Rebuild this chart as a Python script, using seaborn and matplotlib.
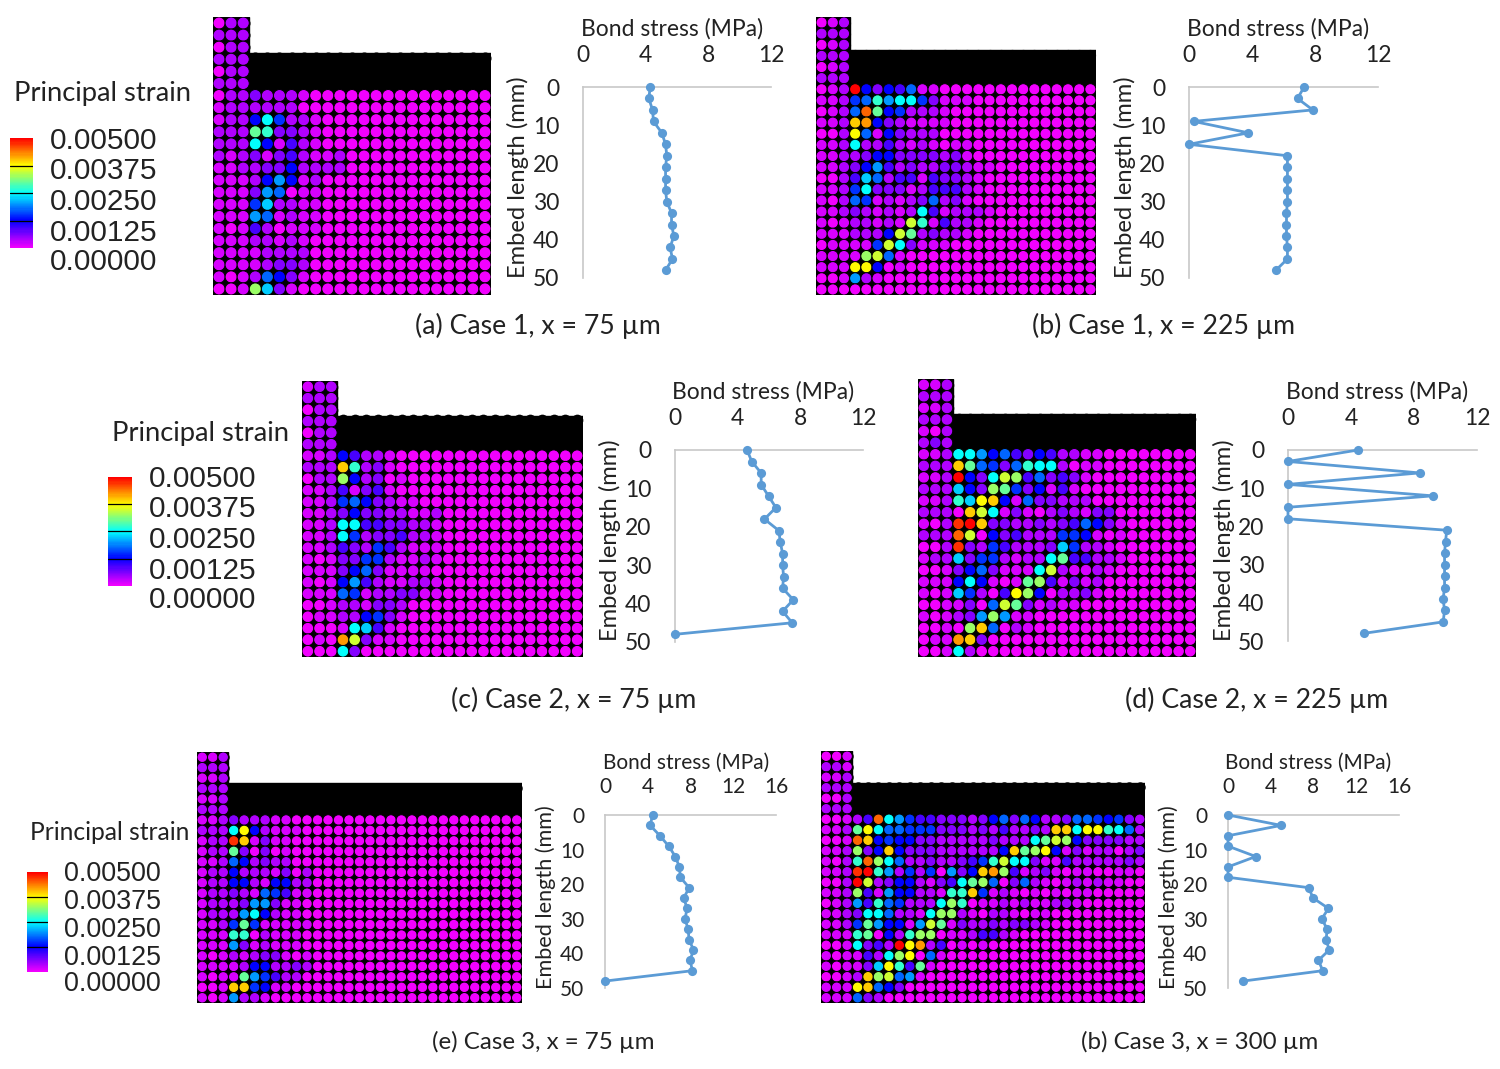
import matplotlib
matplotlib.use('Agg')
import matplotlib.pyplot as plt
from matplotlib.colors import LinearSegmentedColormap
from matplotlib.patches import Rectangle
import numpy as np
import pandas as pd
import seaborn as sns

sns.set_theme(style='white')
plt.rcParams['font.family'] = ['Lato', 'DejaVu Sans']

W, H = 1500, 1069

# strain levels per particle, one char per column in base 36, 1 unit = 0.00025
GRID_A = ['022', '222', '022', '222', '022', '222',
          '02232221', '12222220', '1225a6221', '222cb3321', '222a51421',
          '21231342112', '11223352222', '111258512', '111387011', '111692211',
          '111871211', '101420111', '11122121', '11112222', '11112332',
          '10127531', '001d9310']
GRID_B = ['012', '222', '012', '222', '012', '222',
          '012k53547110', '11267b8aa63111', '0127ic562221', '112gh5321111',
          '002f7153222', '112a2242121011', '11223553333231', '11235842322332110',
          '002497244143321', '1126a3331244421', '10276121237231', '112321212a412221',
          '10122121eb14221', '1112225ec23221', '011116ea3111', '1111de71',
          '111ff501', '0018210', '000']
GRID_C = ['122', '222', '022', '222', '022', '222',
          '112542210', '222gb2310', '022d52301', '112413410', '11267532110',
          '112353322112', '112aa44332210', '112a62334221', '112432642111',
          '101336621121', '111357311110', '101584211221', '111761223311',
          '00122133200', '01122563100', '0001a9410', '010he3110', '000a30']
GRID_D = ['112', '222', '112', '222', '102', '232',
          '112aa85743542211', '222gc7637baa2011', '112k53aed473431', '222953dc635141',
          '112b9fg51733222', '2220gea1310232133', '102jkg332232347531',
          '222ie0534222665101', '002j3264222396221', '12293662122ac44221',
          '0013573111ae21121', '1115a5101cd413120', '10196204fd502231',
          '0011307ec31211', '101238d811', '0010dg7021', '011hg30', '001a20']
GRID_E = ['112', '222', '112', '222', '112', '222',
          '112322211', '222af52111', '122jg13110', '122c303010', '1127523220',
          '12252221302', '12255215522', '12232176411', '12223883110', '12228a5211',
          '1126c611111', '111bb021110', '11183121110', '10121233101', '11112552232',
          '1011c864220', '001gg65110', '101822100']
GRID_F = ['001', '221', '112', '222', '002', '222',
          '00124ia8644333235737522377656' + '32',
          '112cfa7766633323242232ggaffba72',
          '001ig565533222223222aced5333322',
          '112d35g53332222225gcdf513122023',
          '102bida722322346beaa31142222232',
          '112jkb826260835ghd4123101100110',
          '002ke23552134acd703721012121100',
          '112d41855221bbg612101010110',
          '01284b76222adb01121211221',
          '1123aa7221add2102210110',
          '1126c85518ec1322323321',
          '111bc052bdd01124421',
          '001a342kfh240101',
          '101142adf0710',
          '101139fb4c10',
          '0012gde7810',
          '111fg7530',
          '11173200']
# levels 0-4 are the magenta to violet shades, not evenly spaced in strain
LOW_LEVELS = [0, 0.00014, 0.00034, 0.00058, 0.00088]

# embed length (mm) and bond stress (MPa)
EMBED = [0, 3, 6, 9, 12, 15, 18, 21, 24, 27, 30, 33, 36, 39, 42, 45, 48]
STRESS_A = [4.29, 4.2, 4.44, 4.5, 5.03, 5.27, 5.35, 5.27, 5.27, 5.27, 5.35, 5.65, 5.65, 5.8, 5.56, 5.71, 5.27]
STRESS_B = [7.31, 6.89, 7.86, 0.3, 3.77, 0, 6.25, 6.25, 6.25, 6.25, 6.25, 6.19, 6.19, 6.19, 6.25, 6.25, 5.51]
STRESS_C = [4.6, 4.9, 5.5, 5.5, 5.97, 6.44, 5.71, 6.63, 6.72, 6.87, 6.87, 6.93, 6.87, 7.55, 6.87, 7.48, 0]
STRESS_D = [4.45, 0, 8.35, 0, 9.2, 0, 0, 10.08, 10.0, 9.94, 9.94, 9.94, 9.94, 9.85, 9.94, 9.85, 4.81]
STRESS_E = [4.45, 4.23, 5.14, 5.96, 6.58, 6.96, 7.05, 7.87, 7.37, 7.68, 7.49, 7.77, 7.87, 8.28, 7.96, 8.18, 0]
STRESS_F = [0, 4.98, 0, 0, 2.6, 0, 0, 7.55, 7.96, 9.4, 8.78, 9.28, 9.18, 9.47, 8.46, 8.87, 1.41]

LEGEND_LABELS = ['0.00500', '0.00375', '0.00250', '0.00125', '0.00000']
CAPTIONS = ['(a) Case 1, x = 75 µm', '(b) Case 1, x = 225 µm', '(c) Case 2, x = 75 µm',
            '(d) Case 2, x = 225 µm', '(e) Case 3, x = 75 µm', '(b) Case 3, x = 300 µm']

cmap = LinearSegmentedColormap.from_list('strain', ['#F200FF', '#0000FF', '#00FFFF', '#FFFF00', '#FF0000'])
fig = plt.figure(figsize=(15, 10.69), dpi=100)


def px_axes(left, top, right, bottom):
    return fig.add_axes([left / W, 1 - bottom / H, (right - left) / W, (bottom - top) / H])


def fig_text(x, y, s, **kw):
    fig.text(x / W, 1 - y / H, s, va='center', color='#222222', **kw)


def level_strain(ch):
    level = int(ch, 36)
    return LOW_LEVELS[level] if level < len(LOW_LEVELS) else level * 0.00025


def draw_particles(grid, ncols, box):
    ax = px_axes(*box)
    nrows = len(grid)
    # stem and block sit on black, band is black particles
    ax.add_patch(Rectangle((-0.5, -0.5), 3, nrows, color='black', zorder=0))
    ax.add_patch(Rectangle((2.5, 2.5), ncols - 3, nrows - 3, color='black', zorder=0))
    rows, cols, strain = [], [], []
    for r, line in enumerate(grid):
        width = ncols if r >= 6 else 3
        for c, ch in enumerate(line.ljust(width, '0')[:width]):
            rows.append(r)
            cols.append(c)
            strain.append(level_strain(ch))
    df = pd.DataFrame({'col': cols, 'row': rows, 'strain': strain})
    cell = (box[2] - box[0]) / ncols
    size = (1.0 * cell * 0.72) ** 2
    edge_x = np.arange(3, ncols)
    ax.scatter(edge_x, np.full(len(edge_x), 2.92), s=size, color='black', linewidth=0, zorder=1)
    edge_y = np.arange(0, 3)
    ax.scatter(np.full(len(edge_y), 2.1), edge_y, s=size, color='black', linewidth=0, zorder=1)
    sns.scatterplot(data=df, x='col', y='row', hue='strain', hue_norm=(0, 0.005), palette=cmap,
                    s=size, linewidth=0.7, edgecolor='black', legend=False, ax=ax, zorder=2)
    ax.set_xlim(-0.5, ncols - 0.5)
    ax.set_ylim(nrows - 0.5, -0.5)
    ax.axis('off')


def draw_stress(stress, xmax, box, xlabel_pos, ylabel_pos, fs, pad):
    ax = px_axes(*box)
    df = pd.DataFrame({'embed': EMBED, 'stress': stress})
    sns.lineplot(data=df, x='stress', y='embed', sort=False, estimator=None, color='#5B9BD5',
                 linewidth=2.0, marker='o', markersize=6.6, markeredgewidth=0, ax=ax, clip_on=False, zorder=5)
    ax.set_xlim(0, xmax)
    ax.set_ylim(50, 0)
    ax.set_xticks(np.arange(0, xmax + 1, 4))
    ax.set_yticks([0, 10, 20, 30, 40, 50])
    ax.xaxis.tick_top()
    ax.tick_params(axis='x', length=0, labelsize=fs, labelcolor='#222222', pad=pad - 2)
    ax.tick_params(axis='y', length=0, labelsize=fs, labelcolor='#222222', pad=pad)
    for s in ['right', 'bottom']:
        ax.spines[s].set_visible(False)
    for s in ['left', 'top']:
        ax.spines[s].set_color('#c8c8c8')
        ax.spines[s].set_linewidth(1.2)
    ax.set_xlabel('')
    ax.set_ylabel('')
    fig_text(xlabel_pos[0], xlabel_pos[1] + 2, 'Bond stress (MPa)', ha='center', fontsize=fs)
    fig_text(ylabel_pos[0] + 2, ylabel_pos[1], 'Embed length (mm)', ha='center', rotation=90, fontsize=fs + 0.6)


def draw_legend(title_pos, title_fs, bar_box, label_x, label_ys, fs):
    fig_text(title_pos[0], title_pos[1] + 2, 'Principal strain', ha='center', fontsize=title_fs)
    ax = px_axes(*bar_box)
    gradient = np.linspace(0.005, 0, 100).reshape(-1, 1)
    sns.heatmap(gradient, cmap=cmap, vmin=0, vmax=0.005, cbar=False, xticklabels=False, yticklabels=False, ax=ax)
    for v in [25, 50, 75]:
        ax.axhline(v, color='black', linewidth=0.9)
    for y, label in zip(label_ys, LEGEND_LABELS):
        fig_text(label_x, y + 2, label, ha='left', fontsize=fs, family='Liberation Sans')


draw_particles(GRID_A, 23, (213, 17, 491, 295))
draw_particles(GRID_B, 25, (816, 17, 1096, 295))
draw_particles(GRID_C, 24, (302, 381, 583, 657))
draw_particles(GRID_D, 24, (918, 379, 1196, 657))
draw_particles(GRID_E, 31, (197, 752, 522, 1003))
draw_particles(GRID_F, 31, (821, 751, 1145, 1003))

draw_stress(STRESS_A, 12, (583, 87, 771, 278), (672, 27), (516, 177), 16.5, 17)
draw_stress(STRESS_B, 12, (1189, 87, 1378, 278), (1278, 27), (1123, 177), 16.5, 17)
draw_stress(STRESS_C, 12, (675, 450, 863, 642), (763, 390), (608, 540), 16.5, 17)
draw_stress(STRESS_D, 12, (1288, 450, 1477, 641), (1377, 390), (1222, 540), 16.5, 17)
draw_stress(STRESS_E, 16, (605, 815, 776, 988), (686, 761), (544, 897), 15, 15)
draw_stress(STRESS_F, 16, (1228, 815, 1399, 988), (1308, 761), (1167, 897), 15, 15)

draw_legend((102, 92), 19.7, (10, 138, 33, 248), 50, [139, 169, 200, 231, 260], 21.4)
draw_legend((200, 431), 19.7, (108, 477, 132, 586), 149, [477, 507, 538, 569, 598], 21.4)
draw_legend((110, 830), 17.7, (27, 872, 48, 972), 64, [872, 900, 928, 956, 982], 19.4)

caption_pos = [(538, 326, 19.2), (1163, 326, 19.2), (574, 700, 19.2), (1257, 700, 19.2), (543, 1042, 17.4), (1200, 1042, 17.4)]
for caption, (x, y, fs) in zip(CAPTIONS, caption_pos):
    fig_text(x, y, caption, ha='center', fontsize=fs)

fig.savefig('out.png', dpi=100)
